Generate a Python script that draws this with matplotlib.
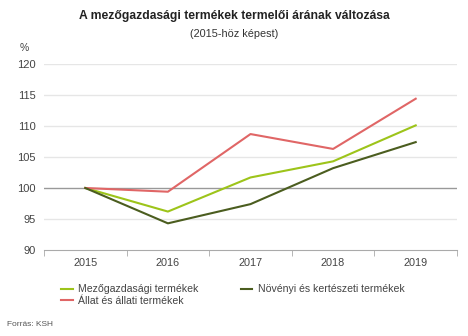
import matplotlib.pyplot as plt

plt.rcParams['font.family'] = ['Liberation Sans', 'DejaVu Sans']

years = ['2015', '2016', '2017', '2018', '2019']
mezogazdasagi = [100.0, 96.2, 101.7, 104.3, 110.1]
novenyi = [100.0, 94.3, 97.4, 103.2, 107.4]
allati = [100.0, 99.4, 108.7, 106.3, 114.4]
yticks = [90, 95, 100, 105, 110, 115, 120]

fig = plt.figure(figsize=(4.68, 3.36), dpi=100)
ax = fig.add_axes([44 / 468, 1 - 250 / 336, (457 - 44) / 468, (250 - 64) / 336])

x = range(len(years))
ax.plot(x, mezogazdasagi, color='#9dc41a', lw=1.5, label='Mezőgazdasági termékek')
ax.plot(x, allati, color='#e06666', lw=1.5, label='Állat és állati termékek')
ax.plot(x, novenyi, color='#4b5d1f', lw=1.5, label='Növényi és kertészeti termékek')

ax.set_xlim(-0.5, len(years) - 0.5)
ax.set_ylim(90, 120)
ax.set_yticks(yticks)
ax.set_xticks(list(x))
ax.set_xticklabels(years)
ax.set_xticks([i - 0.5 for i in range(len(years) + 1)], minor=True)

for t in yticks:
    if t == 100:
        ax.axhline(t, color='#999999', lw=1.0, zorder=0)
    elif t != 90:
        ax.axhline(t, color='#e6e6e6', lw=1.0, zorder=0)

for s in ['top', 'right', 'left']:
    ax.spines[s].set_visible(False)
ax.spines['bottom'].set_color('#aaaaaa')
ax.tick_params(axis='y', length=0, labelsize=8, colors='#444444', pad=6)
ax.tick_params(axis='x', which='major', length=0, labelsize=7.8, colors='#444444', pad=6)
ax.tick_params(axis='x', which='minor', length=4, color='#aaaaaa')

fig.text(0.5, 1 - 16 / 336, 'A mezőgazdasági termékek termelői árának változása',
         ha='center', va='center', fontsize=8.7, fontweight='bold', color='#222222')
fig.text(0.5, 1 - 34 / 336, '(2015-höz képest)', ha='center', va='center',
         fontsize=7.8, color='#333333')
fig.text(20 / 468, 1 - 48 / 336, '%', ha='left', va='center', fontsize=7.5, color='#444444')
fig.text(7 / 468, 1 - 325 / 336, 'Forrás: KSH', ha='left', va='center', fontsize=6, color='#555555')

handles, labels = ax.get_legend_handles_labels()
fig.legend(handles, labels, loc='upper left', bbox_to_anchor=(57 / 468, 1 - 280 / 336),
           ncol=2, frameon=False, fontsize=7.6, handlelength=1.1, handletextpad=0.5,
           columnspacing=4.0, labelspacing=0.15, labelcolor='#444444', borderaxespad=0)

fig.savefig('out.png', dpi=100)
